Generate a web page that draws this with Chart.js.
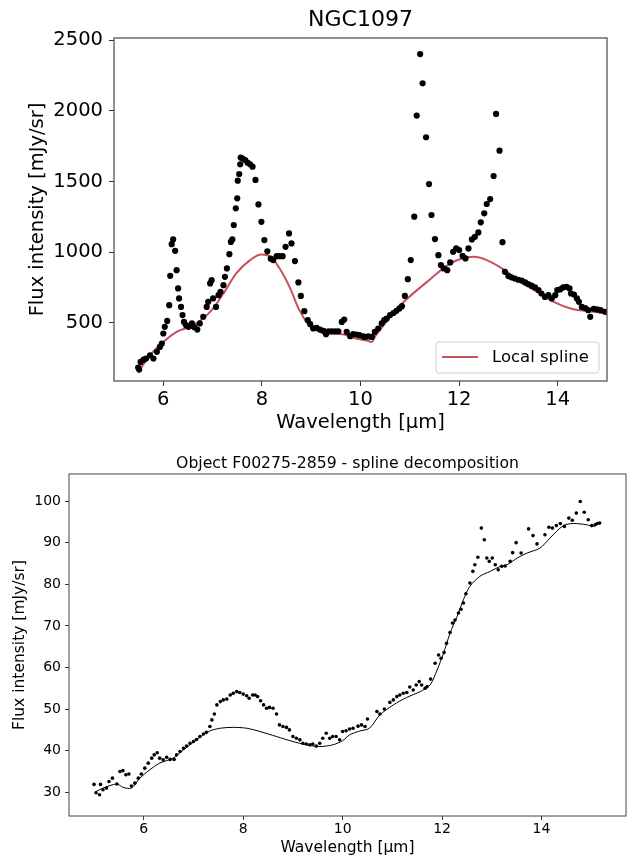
<!DOCTYPE html>
<html>
<head>
<meta charset="utf-8">
<script src="https://cdn.jsdelivr.net/npm/chart.js@4.4.0/dist/chart.umd.min.js"></script>
<style>
  body { margin: 0; background: #fff; }
  canvas { display: block; }
</style>
</head>
<body>
<canvas id="topChart" width="635" height="440"></canvas>
<canvas id="bottomChart" width="635" height="419"></canvas>
<script>
// NGC1097 - measured spectrum (dots)
const ngcWave = [5.49,5.51,5.54,5.60,5.65,5.73,5.80,5.87,5.93,5.97,6.00,6.03,6.08,6.12,6.14,6.17,6.20,6.24,6.27,6.30,
  6.32,6.36,6.39,6.42,6.46,6.51,6.55,6.58,6.63,6.69,6.74,6.81,6.88,6.91,6.95,6.98,7.01,7.07,7.12,7.16,
  7.22,7.25,7.29,7.34,7.37,7.40,7.43,7.47,7.50,7.51,7.54,7.56,7.57,7.61,7.66,7.71,7.76,7.81,7.87,7.93,
  7.99,8.05,8.11,8.18,8.23,8.30,8.36,8.42,8.48,8.55,8.60,8.67,8.74,8.79,8.86,8.93,8.98,9.04,9.11,9.18,
  9.25,9.30,9.35,9.42,9.49,9.55,9.62,9.67,9.72,9.79,9.85,9.92,9.98,10.05,10.09,10.16,10.23,10.29,10.36,10.43,
  10.48,10.53,10.60,10.67,10.73,10.79,10.84,10.90,10.96,11.02,11.09,11.14,11.21,11.26,11.33,11.39,11.44,11.51,11.58,11.63,
  11.69,11.76,11.82,11.88,11.94,12.00,12.07,12.13,12.19,12.26,12.32,12.39,12.44,12.51,12.56,12.63,12.70,12.75,12.82,12.88,
  12.93,13.00,13.06,13.13,13.20,13.27,13.34,13.40,13.47,13.54,13.61,13.67,13.74,13.81,13.88,13.95,13.99,14.05,14.11,14.18,
  14.24,14.27,14.33,14.39,14.43,14.49,14.56,14.62,14.66,14.73,14.80,14.87,14.96];
const ngcFlux = [184,170,224,240,248,271,248,295,330,354,425,472,514,625,833,1057,1090,1010,873,744,
  673,613,555,507,484,472,480,496,470,453,496,543,613,649,779,802,673,613,696,720,
  767,826,885,986,1073,1090,1192,1310,1381,1506,1553,1622,1669,1662,1652,1633,1622,1605,1511,1338,
  1215,1086,1006,954,944,972,972,972,1038,1133,1062,937,786,691,583,519,491,461,465,453,
  443,420,441,441,441,441,507,524,437,406,420,418,413,405,401,404,401,437,460,496,
  519,530,555,570,585,602,618,691,809,944,1251,1966,2401,2195,1813,1482,1263,1093,979,909,
  885,873,928,1003,1027,1015,974,956,1027,1090,1109,1140,1211,1275,1341,1376,1539,1978,1718,1071,
  861,831,822,814,805,800,786,775,763,751,732,708,684,696,673,696,732,737,751,755,
  744,708,700,673,649,613,605,590,543,600,595,590,578];

// NGC1097 - local spline
const ngcSplineWave = [5.49,5.73,6.00,6.27,6.54,6.81,7.01,7.22,7.48,7.76,7.99,8.16,8.36,8.56,8.76,8.93,9.10,9.30,9.64,9.91,
  10.11,10.23,10.29,10.55,10.88,11.35,11.82,12.29,12.56,12.90,13.24,13.58,13.92,14.26,14.73,15.00];
const ngcSplineFlux = [153,271,365,437,472,531,602,708,850,944,984,972,885,755,590,496,448,425,420,389,
  377,365,401,519,649,790,920,967,944,878,790,720,649,602,578,567];

// F00275-2859 - measured spectrum (dots)
const objWave = [5.00,5.04,5.11,5.13,5.18,5.25,5.30,5.37,5.46,5.52,5.58,5.64,5.70,5.75,5.82,5.89,5.95,6.02,6.09,6.16,
  6.21,6.27,6.32,6.39,6.46,6.53,6.61,6.66,6.73,6.80,6.86,6.93,7.00,7.06,7.13,7.20,7.26,7.33,7.37,7.42,
  7.47,7.54,7.60,7.67,7.74,7.80,7.87,7.93,8.00,8.07,8.12,8.19,8.24,8.29,8.35,8.41,8.47,8.53,8.60,8.67,
  8.73,8.80,8.87,8.93,9.00,9.07,9.14,9.20,9.27,9.34,9.40,9.47,9.54,9.60,9.67,9.74,9.80,9.87,9.94,10.00,
  10.07,10.14,10.21,10.31,10.38,10.45,10.50,10.69,10.75,10.84,10.95,11.02,11.09,11.15,11.22,11.29,11.35,11.42,11.48,11.54,
  11.59,11.66,11.70,11.77,11.86,11.93,11.98,12.04,12.09,12.16,12.21,12.26,12.33,12.38,12.43,12.48,12.56,12.62,12.66,12.72,
  12.79,12.85,12.90,12.95,13.01,13.07,13.13,13.20,13.27,13.37,13.42,13.49,13.59,13.74,13.83,13.91,14.07,14.15,14.22,14.30,
  14.38,14.46,14.55,14.62,14.70,14.78,14.86,14.94,15.01,15.08,15.12,15.17];
const objFlux = [31.9,29.9,29.4,31.9,30.6,31.0,32.6,33.4,32.0,35.0,35.2,34.2,34.4,31.5,32.2,33.4,34.4,35.8,37.0,38.2,
  39.0,39.5,38.2,37.8,38.4,37.9,37.9,39.0,39.8,40.6,41.1,41.8,42.2,42.7,43.4,44.0,44.4,45.8,47.4,48.8,
  51.0,51.8,52.2,52.4,53.4,53.8,54.2,54.0,53.6,53.2,52.6,53.4,53.4,53.0,52.0,51.0,50.2,50.4,50.2,48.8,
  46.2,45.8,45.6,45.0,43.4,43.0,42.6,41.8,41.6,41.4,41.6,41.1,41.8,43.0,44.2,43.0,43.4,43.4,42.6,44.6,
  44.8,45.2,45.4,45.9,46.2,45.8,47.6,49.4,48.8,50.0,51.6,52.2,53.0,53.4,53.8,54.0,55.3,54.6,55.8,56.6,
  55.8,55.0,55.4,57.2,61.0,63.0,62.2,63.6,65.8,68.4,70.7,71.4,73.1,74.0,75.5,77.7,80.3,83.1,84.7,86.5,
  93.5,90.7,86.3,85.5,86.3,84.7,83.5,84.3,84.4,85.5,87.6,90.0,87.5,93.3,91.7,89.7,91.9,93.7,93.5,94.1,
  94.6,93.9,95.9,95.4,97.1,99.9,97.3,95.5,94.1,94.3,94.6,94.7];

// F00275-2859 - spline decomposition
const objSplineWave = [5.03,5.18,5.46,5.58,5.75,5.92,6.12,6.32,6.59,6.80,7.06,7.30,7.54,7.80,8.07,8.34,8.67,9.00,9.27,9.54,
  9.80,10.00,10.14,10.34,10.54,10.75,11.02,11.29,11.56,11.76,11.90,12.03,12.16,12.30,12.43,12.56,12.76,12.97,13.17,13.31,
  13.51,13.71,13.97,14.17,14.44,14.64,14.91,15.04,15.17];
const objSplineFlux = [30.1,31.0,32.0,31.2,31.0,33.4,35.4,37.0,38.2,40.2,42.6,44.6,45.4,45.6,45.4,44.6,43.4,42.2,41.4,41.0,
  41.4,42.4,43.8,44.7,45.4,48.6,51.0,52.8,54.2,55.8,59.4,63.4,68.2,72.2,76.3,79.5,81.9,83.1,84.3,84.7,
  86.3,87.5,88.7,91.1,94.1,94.6,94.3,93.9,94.7];

// Tick labels
const topXTicks = [6, 8, 10, 12, 14];
const topYTicks = [500, 1000, 1500, 2000, 2500];
const bottomXTicks = [6, 8, 10, 12, 14];
const bottomYTicks = [30, 40, 50, 60, 70, 80, 90, 100];

const FONT = "'DejaVu Sans', sans-serif";

function toPoints(xs, ys) {
    return xs.map((x, i) => ({ x: x, y: ys[i] }));
}

// Frame round the plot area, title text and an optional in-plot legend
const framePlugin = {
    id: 'frame',
    afterDatasetsDraw(chart, args, opts) {
        const { ctx, chartArea: a } = chart;
        ctx.save();
        ctx.strokeStyle = opts.color;
        ctx.lineWidth = opts.width;
        ctx.strokeRect(a.left, a.top, a.right - a.left, a.bottom - a.top);
        ctx.restore();
    },
    afterDraw(chart, args, opts) {
        const { ctx, chartArea: a } = chart;
        ctx.save();
        ctx.fillStyle = '#000';
        ctx.font = opts.titleSize + 'px ' + FONT;
        ctx.textAlign = 'center';
        ctx.textBaseline = 'middle';
        ctx.fillText(opts.title, (a.left + a.right) / 2, opts.titleY);

        if (opts.legend) {
            const bx = a.right - 8 - 163, by = a.bottom - 8 - 31;
            ctx.fillStyle = 'rgba(255,255,255,0.8)';
            ctx.strokeStyle = '#d0d0d0';
            ctx.lineWidth = 1;
            ctx.beginPath();
            ctx.roundRect(bx, by, 163, 31, 3);
            ctx.fill();
            ctx.stroke();
            ctx.strokeStyle = opts.legend.color;
            ctx.lineWidth = 2;
            ctx.beginPath();
            ctx.moveTo(bx + 6, by + 15);
            ctx.lineTo(bx + 42, by + 15);
            ctx.stroke();
            ctx.fillStyle = '#000';
            ctx.textAlign = 'left';
            ctx.font = '16.5px ' + FONT;
            ctx.fillText(opts.legend.text, bx + 56, by + 16);
        }
        ctx.restore();
    }
};

function axis(min, max, ticks, size, width, height, title, titleSize, titlePad, tickPad, tickLen) {
    return {
        type: 'linear',
        min: min,
        max: max,
        afterBuildTicks: s => { s.ticks = ticks.map(v => ({ value: v })); },
        afterFit: s => {
            if (width) s.width = width;
            if (height) s.height = height;
        },
        grid: { drawOnChartArea: false, drawTicks: true, tickLength: tickLen, color: '#333', tickWidth: 1 },
        border: { display: false },
        ticks: { color: '#000', font: { family: FONT, size: size }, padding: tickPad, maxRotation: 0,
                 callback: v => String(v) },
        title: { display: true, text: title, color: '#000', font: { family: FONT, size: titleSize }, padding: titlePad }
    };
}

// Top chart: NGC1097
new Chart(document.getElementById('topChart'), {
    type: 'scatter',
    data: {
        datasets: [{
            label: 'data',
            data: toPoints(ngcWave, ngcFlux),
            backgroundColor: '#000',
            borderWidth: 0,
            pointRadius: 3.1,
            pointHoverRadius: 3.1
        }, {
            label: 'Local spline',
            type: 'line',
            data: toPoints(ngcSplineWave, ngcSplineFlux),
            borderColor: '#c8505a',
            borderWidth: 2,
            pointRadius: 0,
            cubicInterpolationMode: 'monotone',
            fill: false
        }]
    },
    options: {
        responsive: false,
        animation: false,
        events: [],
        layout: { padding: { top: 38, right: 28, bottom: 0, left: 0 } },
        scales: {
            x: axis(5, 15, topXTicks, 19.5, 0, 59, 'Wavelength [μm]', 19.5, { top: 0, bottom: 5 }, 2, 5),
            y: axis(89, 2515, topYTicks, 19.5, 114, 0, 'Flux intensity [mJy/sr]', 19.5, { top: 26, bottom: 0 }, 6, 5)
        },
        plugins: {
            legend: { display: false },
            tooltip: { enabled: false },
            frame: { color: '#555', width: 1.3, title: 'NGC1097', titleSize: 22, titleY: 20,
                     legend: { text: 'Local spline', color: '#c8505a' } }
        }
    },
    plugins: [framePlugin]
});

// Bottom chart: F00275-2859
new Chart(document.getElementById('bottomChart'), {
    type: 'scatter',
    data: {
        datasets: [{
            label: 'data',
            data: toPoints(objWave, objFlux),
            backgroundColor: '#000',
            borderWidth: 0,
            pointRadius: 1.8,
            pointHoverRadius: 1.8
        }, {
            label: 'spline',
            type: 'line',
            data: toPoints(objSplineWave, objSplineFlux),
            borderColor: '#000',
            borderWidth: 1,
            pointRadius: 0,
            tension: 0.3,
            fill: false
        }]
    },
    options: {
        responsive: false,
        animation: false,
        events: [],
        layout: { padding: { top: 34, right: 9, bottom: 0, left: 0 } },
        scales: {
            x: axis(4.496, 15.70, bottomXTicks, 14, 0, 43, 'Wavelength [μm]', 15.5, { top: 0, bottom: 2 }, 1, 4),
            y: axis(24.3, 106.5, bottomYTicks, 14, 69, 0, 'Flux intensity [mJy/sr]', 15.5, { top: 11, bottom: 0 }, 4, 4)
        },
        plugins: {
            legend: { display: false },
            tooltip: { enabled: false },
            frame: { color: '#444', width: 1, title: 'Object F00275-2859 - spline decomposition', titleSize: 15.7, titleY: 24 }
        }
    },
    plugins: [framePlugin]
});
</script>
</body>
</html>
